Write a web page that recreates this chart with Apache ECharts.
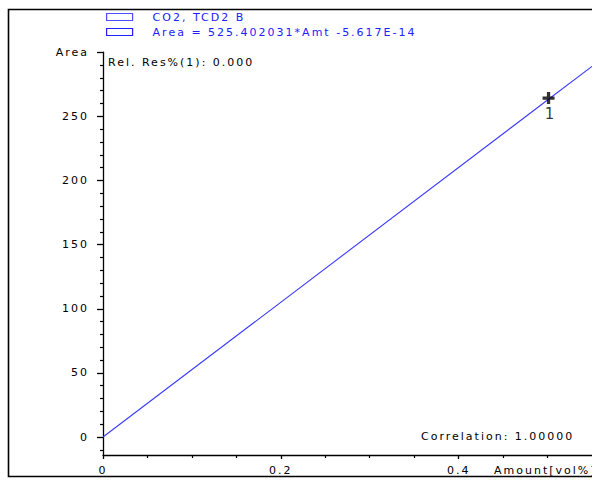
<!DOCTYPE html>
<html>
<head>
<meta charset="utf-8">
<script src="https://cdn.jsdelivr.net/npm/echarts@6/dist/echarts.min.js"></script>
<style>
  html, body { margin: 0; padding: 0; background: #ffffff; }
  #chart { width: 592px; height: 480px; }
  /* the instrument printout uses widely spaced lettering */
  #chart text { letter-spacing: 2px; }
</style>
</head>
<body>
<div id="chart"></div>
<script>
// Calibration data: CO2 on TCD2 B
const sampleName = 'CO2, TCD2 B';
const fitName = 'Area = 525.402031*Amt -5.617E-14';
const calAmount = [0.5];
const calArea = [262.701];
const calLevel = ['1'];

// fitted calibration curve, sampled at its ends and at the calibration level
const fitAmount = [0, 0.5, 0.55];
const fitArea = [0, 262.701, 288.971];

// axis ticks
const yMajorTicks = [0, 50, 100, 150, 200, 250, 300];
const yMinorTicks = [-10, 10, 20, 30, 40, 60, 70, 80, 90, 110, 120, 130, 140,
  160, 170, 180, 190, 210, 220, 230, 240, 260, 270, 280, 290];
const xMajorTicks = [0, 0.2, 0.4];
const xMinorTicks = [0.05, 0.1, 0.15, 0.25, 0.3, 0.35, 0.45, 0.5];
const yTopLabel = 'Area';
const xAxisTitle = 'Amount[vol%]';
const relResText = 'Rel. Res%(1): 0.000';
const correlationText = 'Correlation: 1.00000';

const FONT = 'DejaVu Sans';
const FS = 11;
const INK = '#000000';
const BLUE = '#2020ff';
const yMin = -14, yMax = 300, xMin = 0, xMax = 0.55;

const chart = echarts.init(document.getElementById('chart'), null, { renderer: 'svg' });

const axisLineOn = { show: true, onZero: false, lineStyle: { color: INK, width: 1.3 } };
const axisLineOff = { show: false, onZero: false };

chart.setOption({
  animation: false,
  backgroundColor: '#ffffff',
  grid: { left: 103, top: 52.2, width: 493, height: 402.8, containLabel: false },
  legend: {
    data: [sampleName, fitName],
    orient: 'vertical',
    left: 106,
    top: 11.5,
    padding: 0,
    itemGap: 4,
    itemWidth: 26,
    itemHeight: 7,
    icon: 'rect',
    selectedMode: false,
    itemStyle: { color: 'rgba(0,0,0,0)', borderColor: BLUE, borderWidth: 1.2 },
    textStyle: { color: BLUE, fontSize: FS, fontFamily: FONT, padding: [0, 0, 0, 15] }
  },
  xAxis: [
    {
      type: 'value', min: xMin, max: xMax, position: 'bottom',
      splitLine: { show: false },
      axisLine: axisLineOn,
      axisTick: { show: true, customValues: xMajorTicks, length: 4, lineStyle: { color: INK, width: 1.3 } },
      axisLabel: {
        customValues: xMajorTicks, margin: 10, color: INK, fontSize: FS, fontFamily: FONT,
        formatter: v => String(v)
      },
      name: xAxisTitle,
      nameLocation: 'end',
      nameGap: -98,
      nameTextStyle: { color: INK, fontSize: FS, fontFamily: FONT, align: 'left', verticalAlign: 'top', padding: [9.5, 0, 0, 0] }
    },
    {
      type: 'value', min: xMin, max: xMax, position: 'bottom',
      splitLine: { show: false },
      axisLine: axisLineOff,
      axisTick: { show: true, customValues: xMinorTicks, length: 3, lineStyle: { color: INK, width: 1.2 } },
      axisLabel: { show: false }
    }
  ],
  yAxis: [
    {
      type: 'value', min: yMin, max: yMax, position: 'left',
      splitLine: { show: false },
      axisLine: axisLineOn,
      axisTick: { show: true, customValues: yMajorTicks, length: 6, lineStyle: { color: INK, width: 1.3 } },
      axisLabel: {
        customValues: yMajorTicks, margin: 14, color: INK, fontSize: FS, fontFamily: FONT,
        formatter: v => (v === yMax ? yTopLabel : String(v))
      }
    },
    {
      type: 'value', min: yMin, max: yMax, position: 'left', offset: 0,
      splitLine: { show: false },
      axisLine: axisLineOff,
      axisTick: { show: true, customValues: yMinorTicks, length: 3, lineStyle: { color: INK, width: 1.2 } },
      axisLabel: { show: false }
    }
  ],
  series: [
    {
      name: fitName,
      type: 'line',
      xAxisIndex: 0, yAxisIndex: 0,
      data: fitAmount.map((a, i) => [a, fitArea[i]]),
      showSymbol: false,
      symbol: 'none',
      clip: true,
      lineStyle: { color: '#3a3aff', width: 1.1 },
      z: 2
    },
    {
      name: sampleName,
      type: 'scatter',
      xAxisIndex: 0, yAxisIndex: 0,
      data: calAmount.map((a, i) => ({ value: [a, calArea[i]], level: calLevel[i] })),
      symbol: 'path://M4,0H7V4H11V7H7V11H4V7H0V4H4Z',
      symbolSize: 12,
      symbolOffset: [1, -2],
      itemStyle: { color: '#000000' },
      label: {
        show: true, position: 'bottom', distance: 2,
        offset: [2, 0],
        formatter: p => p.data.level,
        color: '#000000', fontSize: 15, fontFamily: FONT
      },
      z: 3
    }
  ],
  graphic: [
    {
      type: 'polyline', silent: true,
      shape: { points: [[592, 9.5], [8.5, 9.5], [8.5, 476.5], [592, 476.5]] },
      style: { stroke: '#000000', lineWidth: 1.6, fill: null }
    },
    {
      type: 'text', left: 108, top: 57,
      style: { text: relResText, fill: INK, font: FS + 'px "' + FONT + '"' }
    },
    {
      type: 'text', left: 421, top: 430.5,
      style: { text: correlationText, fill: INK, font: FS + 'px "' + FONT + '"' }
    }
  ]
});
</script>
</body>
</html>
